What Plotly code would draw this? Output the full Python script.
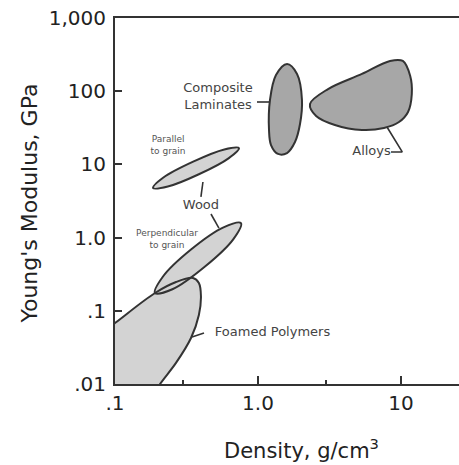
import plotly.graph_objects as go

# ---- Material property regions (density in g/cm^3, Young's modulus in GPa) ----
# Outline vertices of each envelope, traced around the region.
foam_density = [0.0725, 0.0725, 0.1, 0.1905, 0.267, 0.351, 0.386, 0.399, 0.386, 0.340, 0.267, 0.2065, 0.170, 0.0725]
foam_modulus = [0.0055, 0.0425, 0.068, 0.175, 0.247, 0.281, 0.240, 0.159, 0.0877, 0.0425, 0.0194, 0.010, 0.0055, 0.0055]

wood_perp_density = [0.426, 0.252, 0.1905, 0.216, 0.340, 0.574, 0.760, 0.671, 0.426]
wood_perp_modulus = [0.403, 0.197, 0.175, 0.292, 0.687, 1.38, 1.58, 0.948, 0.403]

wood_par_density = [0.386, 0.234, 0.1845, 0.218, 0.352, 0.581, 0.736, 0.622, 0.386]
wood_par_modulus = [7.33, 4.98, 4.76, 6.61, 10.9, 16.0, 16.7, 12.1, 7.33]

composite_density = [2.03, 1.967, 1.814, 1.596, 1.380, 1.233, 1.194, 1.213, 1.336, 1.596, 1.875, 2.03]
composite_modulus = [75.9, 35.6, 20.2, 14.3, 13.9, 18.4, 29.5, 75.9, 166, 235.5, 172, 75.9]

alloy_density = [5.33, 3.45, 2.55, 2.31, 3.09, 5.33, 8.38, 10.3, 11.6, 11.9, 11.2, 9.68, 7.60, 5.33]
alloy_modulus = [29.5, 34.5, 45.8, 66.9, 107, 172, 259, 259, 161, 91.6, 52.0, 37.9, 31.4, 29.5]

# ---- Leader lines linking labels to regions ----
wood_par_leader_density = [0.412, 0.399]
wood_par_leader_modulus = [5.75, 3.59]
wood_perp_leader_density = [0.469, 0.533]
wood_perp_leader_modulus = [2.10, 1.35]
composite_leader_density = [0.984, 1.213]
composite_leader_modulus = [71.2, 71.2]
alloy_leader_density = [8.51, 10.2, 7.98]
alloy_leader_modulus = [14.8, 14.8, 32.4]
foam_leader_density = [0.3455, 0.419]
foam_leader_modulus = [0.0439, 0.0497]

# ---- Region labels ----
label_text = ["Composite<br>Laminates", "Alloys", "Wood", "Foamed Polymers"]
label_density = [0.525, 6.22, 0.399, 1.263]
label_modulus = [82.0, 14.8, 2.70, 0.0497]

small_label_text = ["Parallel<br>to grain", "Perpendicular<br>to grain"]
small_label_density = [0.235, 0.231]
small_label_modulus = [18.1, 0.942]

# ---- Axis ticks ----
x_tick_vals = [0.1, 1, 10]
x_tick_text = [".1", "1.0", "10"]
x_minor_vals = [0.3, 3]
y_tick_vals = [0.01, 0.1, 1, 10, 100, 1000]
y_tick_text = [".01", ".1", "1.0", "10", "100", "1,000"]

FONT = "DejaVu Sans"
EDGE = "#333333"
LIGHT = "#d3d3d3"
DARK = "#a7a7a7"

fig = go.Figure()


def region(xs, ys, fill, with_line=True):
    fig.add_trace(go.Scatter(
        x=xs, y=ys, mode="lines", fill="toself", fillcolor=fill,
        line=dict(color=EDGE if with_line else fill, width=2 if with_line else 0,
                  shape="spline", smoothing=1.0),
        hoverinfo="skip"))


def outline(xs, ys):
    fig.add_trace(go.Scatter(
        x=xs, y=ys, mode="lines",
        line=dict(color=EDGE, width=2, shape="spline", smoothing=1.0),
        hoverinfo="skip"))


def leader(xs, ys):
    fig.add_trace(go.Scatter(
        x=xs, y=ys, mode="lines", line=dict(color=EDGE, width=1.6),
        hoverinfo="skip"))


# light regions: foams and wood (fills first, outlines on top so the overlap lens shows)
region(foam_density, foam_modulus, LIGHT, with_line=False)
region(wood_perp_density, wood_perp_modulus, LIGHT, with_line=False)
outline(foam_density, foam_modulus)
outline(wood_perp_density, wood_perp_modulus)
region(wood_par_density, wood_par_modulus, LIGHT)

# dark regions: composites and alloys
region(composite_density, composite_modulus, DARK)
region(alloy_density, alloy_modulus, DARK)

leader(wood_par_leader_density, wood_par_leader_modulus)
leader(wood_perp_leader_density, wood_perp_leader_modulus)
leader(composite_leader_density, composite_leader_modulus)
leader(alloy_leader_density, alloy_leader_modulus)
leader(foam_leader_density, foam_leader_modulus)

fig.add_trace(go.Scatter(
    x=label_density, y=label_modulus, mode="text", text=label_text,
    textposition="middle center",
    textfont=dict(family=FONT, size=13, color="#444444"),
    hoverinfo="skip"))
fig.add_trace(go.Scatter(
    x=small_label_density, y=small_label_modulus, mode="text", text=small_label_text,
    textposition="middle center",
    textfont=dict(family=FONT, size=9, color="#555555"),
    hoverinfo="skip"))

fig.update_layout(
    width=459, height=465,
    margin=dict(l=115, r=0, t=18, b=81),
    paper_bgcolor="white", plot_bgcolor="white",
    showlegend=False,
    xaxis=dict(
        type="log", range=[-1, 1.4056],
        showline=True, linecolor=EDGE, linewidth=2, mirror=True,
        ticks="inside", ticklen=8, tickwidth=2, tickcolor=EDGE,
        tickmode="array", tickvals=x_tick_vals, ticktext=x_tick_text,
        tickfont=dict(family=FONT, size=20, color="#222222"),
        ticklabelstandoff=0,
        showgrid=False, zeroline=False,
        minor=dict(tickmode="array", tickvals=x_minor_vals, ticks="inside",
                   ticklen=4, tickwidth=2, tickcolor=EDGE, showgrid=False),
    ),
    yaxis=dict(
        type="log", range=[-2, 3],
        showline=True, linecolor=EDGE, linewidth=2,
        ticks="inside", ticklen=7, tickwidth=2, tickcolor=EDGE,
        tickmode="array", tickvals=y_tick_vals, ticktext=y_tick_text,
        tickfont=dict(family=FONT, size=20, color="#222222"),
        ticklabelstandoff=3,
        showgrid=False, zeroline=False,
    ),
    annotations=[
        dict(text="Young's Modulus, GPa", xref="paper", yref="paper",
             x=-0.247, y=0.493, textangle=-90, showarrow=False,
             xanchor="center", yanchor="middle",
             font=dict(family=FONT, size=22, color="#222222")),
        dict(text="Density, g/cm<sup>3</sup>", xref="paper", yref="paper",
             x=0.541, y=-0.178, showarrow=False,
             xanchor="center", yanchor="middle",
             font=dict(family=FONT, size=21, color="#222222")),
    ],
)

fig.write_html("out.html")
